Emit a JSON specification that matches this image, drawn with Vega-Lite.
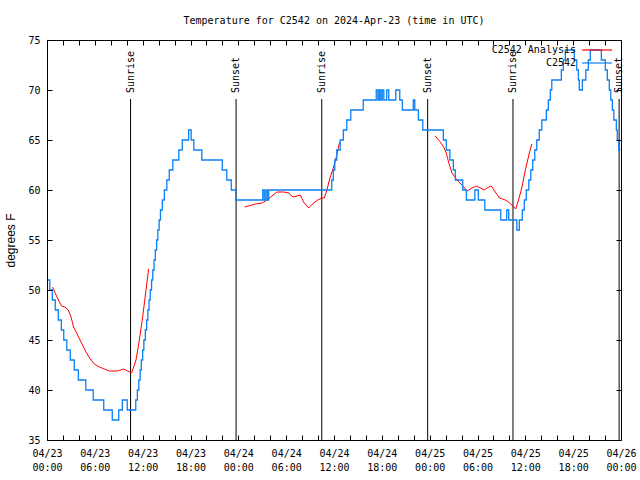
{
  "$schema": "https://vega.github.io/schema/vega-lite/v6.json",
  "width": 574,
  "height": 400,
  "autosize": {"type": "none"},
  "padding": {"left": 47, "top": 40, "right": 19, "bottom": 40},
  "title": {
    "text": "Temperature for C2542 on 2024-Apr-23 (time in UTC)",
    "font": "DejaVu Sans Mono",
    "fontSize": 10,
    "fontWeight": "normal",
    "color": "#000000",
    "anchor": "middle",
    "offset": 9
  },
  "config": {
    "view": {"stroke": "#000000", "strokeWidth": 1},
    "axis": {
      "domain": false,
      "grid": false,
      "labelFont": "DejaVu Sans Mono",
      "labelFontSize": 10,
      "labelColor": "#000000",
      "tickColor": "#000000",
      "tickOpacity": 1,
      "tickWidth": 1,
      "titleFont": "Liberation Sans",
      "titleFontSize": 12,
      "titleFontWeight": "normal",
      "titleColor": "#000000"
    }
  },
  "datasets": {
    "events": [
      {"t": "2024-04-23T10:29:00Z", "label": "Sunrise"},
      {"t": "2024-04-23T23:43:00Z", "label": "Sunset"},
      {"t": "2024-04-24T10:28:00Z", "label": "Sunrise"},
      {"t": "2024-04-24T23:45:00Z", "label": "Sunset"},
      {"t": "2024-04-25T10:27:00Z", "label": "Sunrise"},
      {"t": "2024-04-25T23:46:00Z", "label": "Sunset"}
    ],
    "analysis": [
      {"t": "2024-04-23T00:42:00Z", "v": 50.3, "s": "C2542 Analysis", "run": "a1"},
      {"t": "2024-04-23T01:08:00Z", "v": 49.5, "s": "C2542 Analysis", "run": "a1"},
      {"t": "2024-04-23T01:33:00Z", "v": 48.8, "s": "C2542 Analysis", "run": "a1"},
      {"t": "2024-04-23T01:50:00Z", "v": 48.4, "s": "C2542 Analysis", "run": "a1"},
      {"t": "2024-04-23T02:15:00Z", "v": 48.3, "s": "C2542 Analysis", "run": "a1"},
      {"t": "2024-04-23T02:40:00Z", "v": 48.0, "s": "C2542 Analysis", "run": "a1"},
      {"t": "2024-04-23T03:01:00Z", "v": 47.3, "s": "C2542 Analysis", "run": "a1"},
      {"t": "2024-04-23T03:20:00Z", "v": 46.3, "s": "C2542 Analysis", "run": "a1"},
      {"t": "2024-04-23T03:43:00Z", "v": 45.7, "s": "C2542 Analysis", "run": "a1"},
      {"t": "2024-04-23T04:16:00Z", "v": 44.8, "s": "C2542 Analysis", "run": "a1"},
      {"t": "2024-04-23T04:53:00Z", "v": 43.8, "s": "C2542 Analysis", "run": "a1"},
      {"t": "2024-04-23T05:31:00Z", "v": 43.0, "s": "C2542 Analysis", "run": "a1"},
      {"t": "2024-04-23T05:56:00Z", "v": 42.6, "s": "C2542 Analysis", "run": "a1"},
      {"t": "2024-04-23T06:34:00Z", "v": 42.3, "s": "C2542 Analysis", "run": "a1"},
      {"t": "2024-04-23T07:11:00Z", "v": 42.1, "s": "C2542 Analysis", "run": "a1"},
      {"t": "2024-04-23T07:49:00Z", "v": 41.9, "s": "C2542 Analysis", "run": "a1"},
      {"t": "2024-04-23T08:51:00Z", "v": 41.9, "s": "C2542 Analysis", "run": "a1"},
      {"t": "2024-04-23T09:36:00Z", "v": 42.1, "s": "C2542 Analysis", "run": "a1"},
      {"t": "2024-04-23T10:07:00Z", "v": 41.9, "s": "C2542 Analysis", "run": "a1"},
      {"t": "2024-04-23T10:37:00Z", "v": 41.7, "s": "C2542 Analysis", "run": "a1"},
      {"t": "2024-04-23T11:10:00Z", "v": 43.0, "s": "C2542 Analysis", "run": "a1"},
      {"t": "2024-04-23T11:35:00Z", "v": 45.0, "s": "C2542 Analysis", "run": "a1"},
      {"t": "2024-04-23T12:00:00Z", "v": 47.3, "s": "C2542 Analysis", "run": "a1"},
      {"t": "2024-04-23T12:25:00Z", "v": 50.0, "s": "C2542 Analysis", "run": "a1"},
      {"t": "2024-04-23T12:45:00Z", "v": 52.1, "s": "C2542 Analysis", "run": "a1"},
      {"t": "2024-04-24T00:47:00Z", "v": 58.3, "s": "C2542 Analysis", "run": "a2"},
      {"t": "2024-04-24T02:08:00Z", "v": 58.6, "s": "C2542 Analysis", "run": "a2"},
      {"t": "2024-04-24T02:58:00Z", "v": 58.7, "s": "C2542 Analysis", "run": "a2"},
      {"t": "2024-04-24T03:36:00Z", "v": 59.0, "s": "C2542 Analysis", "run": "a2"},
      {"t": "2024-04-24T04:13:00Z", "v": 59.4, "s": "C2542 Analysis", "run": "a2"},
      {"t": "2024-04-24T04:51:00Z", "v": 59.8, "s": "C2542 Analysis", "run": "a2"},
      {"t": "2024-04-24T05:41:00Z", "v": 59.8, "s": "C2542 Analysis", "run": "a2"},
      {"t": "2024-04-24T06:18:00Z", "v": 59.7, "s": "C2542 Analysis", "run": "a2"},
      {"t": "2024-04-24T06:51:00Z", "v": 59.3, "s": "C2542 Analysis", "run": "a2"},
      {"t": "2024-04-24T07:22:00Z", "v": 59.4, "s": "C2542 Analysis", "run": "a2"},
      {"t": "2024-04-24T07:46:00Z", "v": 59.5, "s": "C2542 Analysis", "run": "a2"},
      {"t": "2024-04-24T08:11:00Z", "v": 58.8, "s": "C2542 Analysis", "run": "a2"},
      {"t": "2024-04-24T08:49:00Z", "v": 58.2, "s": "C2542 Analysis", "run": "a2"},
      {"t": "2024-04-24T09:26:00Z", "v": 58.7, "s": "C2542 Analysis", "run": "a2"},
      {"t": "2024-04-24T09:57:00Z", "v": 59.0, "s": "C2542 Analysis", "run": "a2"},
      {"t": "2024-04-24T10:30:00Z", "v": 59.2, "s": "C2542 Analysis", "run": "a2"},
      {"t": "2024-04-24T10:47:00Z", "v": 59.2, "s": "C2542 Analysis", "run": "a2"},
      {"t": "2024-04-24T11:07:00Z", "v": 60.0, "s": "C2542 Analysis", "run": "a2"},
      {"t": "2024-04-24T11:25:00Z", "v": 61.0, "s": "C2542 Analysis", "run": "a2"},
      {"t": "2024-04-24T11:57:00Z", "v": 62.3, "s": "C2542 Analysis", "run": "a2"},
      {"t": "2024-04-24T12:21:00Z", "v": 63.5, "s": "C2542 Analysis", "run": "a2"},
      {"t": "2024-04-24T12:42:00Z", "v": 64.8, "s": "C2542 Analysis", "run": "a2"},
      {"t": "2024-04-25T00:42:00Z", "v": 65.4, "s": "C2542 Analysis", "run": "a3"},
      {"t": "2024-04-25T01:20:00Z", "v": 64.8, "s": "C2542 Analysis", "run": "a3"},
      {"t": "2024-04-25T01:45:00Z", "v": 64.3, "s": "C2542 Analysis", "run": "a3"},
      {"t": "2024-04-25T02:05:00Z", "v": 63.7, "s": "C2542 Analysis", "run": "a3"},
      {"t": "2024-04-25T02:22:00Z", "v": 62.8, "s": "C2542 Analysis", "run": "a3"},
      {"t": "2024-04-25T02:48:00Z", "v": 61.7, "s": "C2542 Analysis", "run": "a3"},
      {"t": "2024-04-25T03:26:00Z", "v": 61.0, "s": "C2542 Analysis", "run": "a3"},
      {"t": "2024-04-25T04:03:00Z", "v": 60.5, "s": "C2542 Analysis", "run": "a3"},
      {"t": "2024-04-25T04:41:00Z", "v": 59.9, "s": "C2542 Analysis", "run": "a3"},
      {"t": "2024-04-25T05:19:00Z", "v": 60.2, "s": "C2542 Analysis", "run": "a3"},
      {"t": "2024-04-25T05:51:00Z", "v": 60.4, "s": "C2542 Analysis", "run": "a3"},
      {"t": "2024-04-25T06:21:00Z", "v": 60.2, "s": "C2542 Analysis", "run": "a3"},
      {"t": "2024-04-25T06:51:00Z", "v": 60.0, "s": "C2542 Analysis", "run": "a3"},
      {"t": "2024-04-25T07:11:00Z", "v": 60.2, "s": "C2542 Analysis", "run": "a3"},
      {"t": "2024-04-25T07:44:00Z", "v": 60.4, "s": "C2542 Analysis", "run": "a3"},
      {"t": "2024-04-25T08:14:00Z", "v": 59.8, "s": "C2542 Analysis", "run": "a3"},
      {"t": "2024-04-25T08:46:00Z", "v": 59.2, "s": "C2542 Analysis", "run": "a3"},
      {"t": "2024-04-25T09:29:00Z", "v": 59.0, "s": "C2542 Analysis", "run": "a3"},
      {"t": "2024-04-25T09:54:00Z", "v": 58.8, "s": "C2542 Analysis", "run": "a3"},
      {"t": "2024-04-25T10:27:00Z", "v": 58.4, "s": "C2542 Analysis", "run": "a3"},
      {"t": "2024-04-25T10:47:00Z", "v": 58.1, "s": "C2542 Analysis", "run": "a3"},
      {"t": "2024-04-25T11:09:00Z", "v": 59.0, "s": "C2542 Analysis", "run": "a3"},
      {"t": "2024-04-25T11:35:00Z", "v": 60.3, "s": "C2542 Analysis", "run": "a3"},
      {"t": "2024-04-25T12:00:00Z", "v": 62.0, "s": "C2542 Analysis", "run": "a3"},
      {"t": "2024-04-25T12:32:00Z", "v": 63.8, "s": "C2542 Analysis", "run": "a3"},
      {"t": "2024-04-25T12:49:00Z", "v": 64.6, "s": "C2542 Analysis", "run": "a3"}
    ],
    "obs": [
      {"t": "2024-04-23T00:05:00Z", "v": 51, "s": "C2542"},
      {"t": "2024-04-23T00:21:00Z", "v": 50, "s": "C2542"},
      {"t": "2024-04-23T00:40:00Z", "v": 49, "s": "C2542"},
      {"t": "2024-04-23T01:02:00Z", "v": 48, "s": "C2542"},
      {"t": "2024-04-23T01:25:00Z", "v": 47, "s": "C2542"},
      {"t": "2024-04-23T01:48:00Z", "v": 46, "s": "C2542"},
      {"t": "2024-04-23T02:06:00Z", "v": 45, "s": "C2542"},
      {"t": "2024-04-23T02:29:00Z", "v": 44, "s": "C2542"},
      {"t": "2024-04-23T02:55:00Z", "v": 43, "s": "C2542"},
      {"t": "2024-04-23T03:25:00Z", "v": 42, "s": "C2542"},
      {"t": "2024-04-23T03:56:00Z", "v": 41, "s": "C2542"},
      {"t": "2024-04-23T04:52:00Z", "v": 40, "s": "C2542"},
      {"t": "2024-04-23T05:48:00Z", "v": 39, "s": "C2542"},
      {"t": "2024-04-23T07:07:00Z", "v": 38, "s": "C2542"},
      {"t": "2024-04-23T08:11:00Z", "v": 37, "s": "C2542"},
      {"t": "2024-04-23T09:00:00Z", "v": 38, "s": "C2542"},
      {"t": "2024-04-23T09:27:00Z", "v": 39, "s": "C2542"},
      {"t": "2024-04-23T10:04:00Z", "v": 38, "s": "C2542"},
      {"t": "2024-04-23T11:08:00Z", "v": 39, "s": "C2542"},
      {"t": "2024-04-23T11:20:00Z", "v": 40, "s": "C2542"},
      {"t": "2024-04-23T11:31:00Z", "v": 41, "s": "C2542"},
      {"t": "2024-04-23T11:41:00Z", "v": 42, "s": "C2542"},
      {"t": "2024-04-23T11:50:00Z", "v": 43, "s": "C2542"},
      {"t": "2024-04-23T12:00:00Z", "v": 44, "s": "C2542"},
      {"t": "2024-04-23T12:09:00Z", "v": 45, "s": "C2542"},
      {"t": "2024-04-23T12:20:00Z", "v": 46, "s": "C2542"},
      {"t": "2024-04-23T12:30:00Z", "v": 47, "s": "C2542"},
      {"t": "2024-04-23T12:39:00Z", "v": 48, "s": "C2542"},
      {"t": "2024-04-23T12:48:00Z", "v": 49, "s": "C2542"},
      {"t": "2024-04-23T12:57:00Z", "v": 50, "s": "C2542"},
      {"t": "2024-04-23T13:07:00Z", "v": 51, "s": "C2542"},
      {"t": "2024-04-23T13:16:00Z", "v": 52, "s": "C2542"},
      {"t": "2024-04-23T13:26:00Z", "v": 53, "s": "C2542"},
      {"t": "2024-04-23T13:35:00Z", "v": 54, "s": "C2542"},
      {"t": "2024-04-23T13:45:00Z", "v": 55, "s": "C2542"},
      {"t": "2024-04-23T13:54:00Z", "v": 56, "s": "C2542"},
      {"t": "2024-04-23T14:04:00Z", "v": 57, "s": "C2542"},
      {"t": "2024-04-23T14:14:00Z", "v": 58, "s": "C2542"},
      {"t": "2024-04-23T14:28:00Z", "v": 59, "s": "C2542"},
      {"t": "2024-04-23T14:43:00Z", "v": 60, "s": "C2542"},
      {"t": "2024-04-23T15:02:00Z", "v": 61, "s": "C2542"},
      {"t": "2024-04-23T15:20:00Z", "v": 62, "s": "C2542"},
      {"t": "2024-04-23T15:47:00Z", "v": 63, "s": "C2542"},
      {"t": "2024-04-23T16:32:00Z", "v": 64, "s": "C2542"},
      {"t": "2024-04-23T16:58:00Z", "v": 65, "s": "C2542"},
      {"t": "2024-04-23T17:46:00Z", "v": 66, "s": "C2542"},
      {"t": "2024-04-23T18:05:00Z", "v": 65, "s": "C2542"},
      {"t": "2024-04-23T18:25:00Z", "v": 64, "s": "C2542"},
      {"t": "2024-04-23T19:25:00Z", "v": 63, "s": "C2542"},
      {"t": "2024-04-23T21:59:00Z", "v": 62, "s": "C2542"},
      {"t": "2024-04-23T22:33:00Z", "v": 61, "s": "C2542"},
      {"t": "2024-04-23T23:07:00Z", "v": 60, "s": "C2542"},
      {"t": "2024-04-23T23:41:00Z", "v": 59, "s": "C2542"},
      {"t": "2024-04-24T03:04:00Z", "v": 60, "s": "C2542"},
      {"t": "2024-04-24T03:15:00Z", "v": 59, "s": "C2542"},
      {"t": "2024-04-24T03:27:00Z", "v": 60, "s": "C2542"},
      {"t": "2024-04-24T03:38:00Z", "v": 59, "s": "C2542"},
      {"t": "2024-04-24T03:49:00Z", "v": 60, "s": "C2542"},
      {"t": "2024-04-24T11:43:00Z", "v": 61, "s": "C2542"},
      {"t": "2024-04-24T11:55:00Z", "v": 62, "s": "C2542"},
      {"t": "2024-04-24T12:06:00Z", "v": 63, "s": "C2542"},
      {"t": "2024-04-24T12:21:00Z", "v": 64, "s": "C2542"},
      {"t": "2024-04-24T12:47:00Z", "v": 65, "s": "C2542"},
      {"t": "2024-04-24T13:10:00Z", "v": 66, "s": "C2542"},
      {"t": "2024-04-24T13:36:00Z", "v": 67, "s": "C2542"},
      {"t": "2024-04-24T14:06:00Z", "v": 68, "s": "C2542"},
      {"t": "2024-04-24T15:40:00Z", "v": 69, "s": "C2542"},
      {"t": "2024-04-24T17:18:00Z", "v": 70, "s": "C2542"},
      {"t": "2024-04-24T17:30:00Z", "v": 69, "s": "C2542"},
      {"t": "2024-04-24T17:41:00Z", "v": 70, "s": "C2542"},
      {"t": "2024-04-24T17:52:00Z", "v": 69, "s": "C2542"},
      {"t": "2024-04-24T18:03:00Z", "v": 70, "s": "C2542"},
      {"t": "2024-04-24T18:15:00Z", "v": 69, "s": "C2542"},
      {"t": "2024-04-24T18:37:00Z", "v": 70, "s": "C2542"},
      {"t": "2024-04-24T18:52:00Z", "v": 69, "s": "C2542"},
      {"t": "2024-04-24T19:45:00Z", "v": 70, "s": "C2542"},
      {"t": "2024-04-24T20:15:00Z", "v": 69, "s": "C2542"},
      {"t": "2024-04-24T20:34:00Z", "v": 68, "s": "C2542"},
      {"t": "2024-04-24T21:57:00Z", "v": 69, "s": "C2542"},
      {"t": "2024-04-24T22:08:00Z", "v": 68, "s": "C2542"},
      {"t": "2024-04-24T22:35:00Z", "v": 67, "s": "C2542"},
      {"t": "2024-04-24T23:08:00Z", "v": 66, "s": "C2542"},
      {"t": "2024-04-25T01:43:00Z", "v": 65, "s": "C2542"},
      {"t": "2024-04-25T02:05:00Z", "v": 64, "s": "C2542"},
      {"t": "2024-04-25T02:32:00Z", "v": 63, "s": "C2542"},
      {"t": "2024-04-25T02:58:00Z", "v": 62, "s": "C2542"},
      {"t": "2024-04-25T03:13:00Z", "v": 61, "s": "C2542"},
      {"t": "2024-04-25T04:09:00Z", "v": 60, "s": "C2542"},
      {"t": "2024-04-25T04:36:00Z", "v": 59, "s": "C2542"},
      {"t": "2024-04-25T05:40:00Z", "v": 60, "s": "C2542"},
      {"t": "2024-04-25T06:06:00Z", "v": 59, "s": "C2542"},
      {"t": "2024-04-25T06:55:00Z", "v": 58, "s": "C2542"},
      {"t": "2024-04-25T08:55:00Z", "v": 57, "s": "C2542"},
      {"t": "2024-04-25T09:40:00Z", "v": 58, "s": "C2542"},
      {"t": "2024-04-25T09:55:00Z", "v": 57, "s": "C2542"},
      {"t": "2024-04-25T10:56:00Z", "v": 56, "s": "C2542"},
      {"t": "2024-04-25T11:15:00Z", "v": 57, "s": "C2542"},
      {"t": "2024-04-25T11:37:00Z", "v": 58, "s": "C2542"},
      {"t": "2024-04-25T11:52:00Z", "v": 59, "s": "C2542"},
      {"t": "2024-04-25T12:07:00Z", "v": 60, "s": "C2542"},
      {"t": "2024-04-25T12:26:00Z", "v": 61, "s": "C2542"},
      {"t": "2024-04-25T12:41:00Z", "v": 62, "s": "C2542"},
      {"t": "2024-04-25T12:56:00Z", "v": 63, "s": "C2542"},
      {"t": "2024-04-25T13:11:00Z", "v": 64, "s": "C2542"},
      {"t": "2024-04-25T13:26:00Z", "v": 65, "s": "C2542"},
      {"t": "2024-04-25T13:45:00Z", "v": 66, "s": "C2542"},
      {"t": "2024-04-25T14:04:00Z", "v": 67, "s": "C2542"},
      {"t": "2024-04-25T14:38:00Z", "v": 68, "s": "C2542"},
      {"t": "2024-04-25T14:53:00Z", "v": 69, "s": "C2542"},
      {"t": "2024-04-25T15:08:00Z", "v": 70, "s": "C2542"},
      {"t": "2024-04-25T15:19:00Z", "v": 71, "s": "C2542"},
      {"t": "2024-04-25T16:31:00Z", "v": 72, "s": "C2542"},
      {"t": "2024-04-25T16:46:00Z", "v": 73, "s": "C2542"},
      {"t": "2024-04-25T17:01:00Z", "v": 74, "s": "C2542"},
      {"t": "2024-04-25T18:08:00Z", "v": 73, "s": "C2542"},
      {"t": "2024-04-25T18:27:00Z", "v": 72, "s": "C2542"},
      {"t": "2024-04-25T18:39:00Z", "v": 71, "s": "C2542"},
      {"t": "2024-04-25T18:46:00Z", "v": 70, "s": "C2542"},
      {"t": "2024-04-25T19:09:00Z", "v": 71, "s": "C2542"},
      {"t": "2024-04-25T19:35:00Z", "v": 72, "s": "C2542"},
      {"t": "2024-04-25T19:54:00Z", "v": 73, "s": "C2542"},
      {"t": "2024-04-25T20:09:00Z", "v": 74, "s": "C2542"},
      {"t": "2024-04-25T21:32:00Z", "v": 73, "s": "C2542"},
      {"t": "2024-04-25T22:02:00Z", "v": 72, "s": "C2542"},
      {"t": "2024-04-25T22:17:00Z", "v": 71, "s": "C2542"},
      {"t": "2024-04-25T22:32:00Z", "v": 70, "s": "C2542"},
      {"t": "2024-04-25T22:43:00Z", "v": 69, "s": "C2542"},
      {"t": "2024-04-25T22:55:00Z", "v": 68, "s": "C2542"},
      {"t": "2024-04-25T23:06:00Z", "v": 67, "s": "C2542"},
      {"t": "2024-04-25T23:25:00Z", "v": 66, "s": "C2542"},
      {"t": "2024-04-25T23:32:00Z", "v": 65, "s": "C2542"},
      {"t": "2024-04-25T23:43:00Z", "v": 64, "s": "C2542"},
      {"t": "2024-04-25T23:55:00Z", "v": 64, "s": "C2542"}
    ]
  },
  "layer": [
    {
      "data": {"name": "events"},
      "mark": {"type": "rule", "color": "#000000", "strokeWidth": 1},
      "encoding": {
        "x": {"field": "t", "type": "temporal",
              "scale": {"type": "utc", "domain": [1713830400000, 1714089600000]}, "axis": null},
        "y": {"datum": 69.1, "type": "quantitative",
              "scale": {"domain": [35, 75], "nice": false, "zero": false}, "axis": null},
        "y2": {"datum": 35}
      }
    },
    {
      "data": {"name": "events"},
      "mark": {"type": "text", "angle": 270, "align": "left", "baseline": "middle", "font": "DejaVu Sans Mono", "fontSize": 10, "color": "#000000"},
      "encoding": {
        "x": {"field": "t", "type": "temporal",
              "scale": {"type": "utc", "domain": [1713830400000, 1714089600000]}, "axis": null},
        "y": {"datum": 69.7, "type": "quantitative",
              "scale": {"domain": [35, 75], "nice": false, "zero": false}, "axis": null},
        "text": {"field": "label"}
      }
    },
    {
      "data": {"name": "analysis"},
      "mark": {"type": "line", "strokeWidth": 1},
      "encoding": {
        "x": {"field": "t", "type": "temporal",
              "scale": {"type": "utc", "domain": [1713830400000, 1714089600000]},
              "axis": {"orient": "bottom", "zindex": 1, "title": null, "ticks": true, "tickSize": -5, "format": "%m/%d", "labelPadding": 13, "labelOverlap": false, "labelFlush": false,
                       "values": [1713830400000, 1713852000000, 1713873600000, 1713895200000, 1713916800000, 1713938400000, 1713960000000, 1713981600000, 1714003200000, 1714024800000, 1714046400000, 1714068000000, 1714089600000]}},
        "y": {"field": "v", "type": "quantitative",
              "scale": {"domain": [35, 75], "nice": false, "zero": false},
              "axis": {"orient": "left", "zindex": 1, "values": [35, 40, 45, 50, 55, 60, 65, 70, 75], "ticks": true, "tickSize": -5, "labelPadding": 12, "title": "degrees F", "titlePadding": 10}},
        "color": {"field": "s", "type": "nominal",
                  "scale": {"domain": ["C2542 Analysis", "C2542"], "range": ["#ff0000", "#0a80f5"]},
                  "legend": {"title": null, "orient": "none", "legendX": 544, "legendY": 4, "symbolType": "M-3,0H3", "symbolSize": 100, "symbolStrokeWidth": 1.2, "labelFont": "DejaVu Sans Mono", "labelFontSize": 10, "labelColor": "#000000", "labelAlign": "right", "labelOffset": -27, "rowPadding": 2}},
        "detail": {"field": "run"}
      }
    },
    {
      "data": {"name": "obs"},
      "mark": {"type": "line", "strokeWidth": 1.3, "interpolate": "step-after"},
      "encoding": {
        "x": {"field": "t", "type": "temporal",
              "scale": {"type": "utc", "domain": [1713830400000, 1714089600000]},
              "axis": {"orient": "bottom", "title": null, "ticks": false, "tickSize": 0, "format": "%H:%M", "labelPadding": 22, "labelOverlap": false, "labelFlush": false,
                       "values": [1713830400000, 1713852000000, 1713873600000, 1713895200000, 1713916800000, 1713938400000, 1713960000000, 1713981600000, 1714003200000, 1714024800000, 1714046400000, 1714068000000, 1714089600000]}},
        "y": {"field": "v", "type": "quantitative", "scale": {"domain": [35, 75], "nice": false, "zero": false},
              "axis": {"orient": "right", "zindex": 1, "title": null, "labels": false, "ticks": true, "tickSize": -5, "values": [35, 40, 45, 50, 55, 60, 65, 70, 75]}},
        "color": {"field": "s", "type": "nominal"}
      }
    },
    {
      "data": {"name": "obs"},
      "mark": {"type": "line", "strokeWidth": 1, "opacity": 0, "interpolate": "step-after"},
      "encoding": {
        "x": {"field": "t", "type": "temporal",
              "scale": {"type": "utc", "domain": [1713830400000, 1714089600000]},
              "axis": {"orient": "bottom", "zindex": 1, "title": null, "labels": false, "ticks": true, "tickSize": -5,
                       "values": [1713837600000, 1713844800000, 1713859200000, 1713866400000, 1713880800000, 1713888000000, 1713902400000, 1713909600000, 1713924000000, 1713931200000, 1713945600000, 1713952800000, 1713967200000, 1713974400000, 1713988800000, 1713996000000, 1714010400000, 1714017600000, 1714032000000, 1714039200000, 1714053600000, 1714060800000, 1714075200000, 1714082400000]}},
        "y": {"field": "v", "type": "quantitative", "scale": {"domain": [35, 75], "nice": false, "zero": false}, "axis": null}
      }
    },
    {
      "data": {"name": "obs"},
      "mark": {"type": "line", "strokeWidth": 1, "opacity": 0, "interpolate": "step-after"},
      "encoding": {
        "x": {"field": "t", "type": "temporal",
              "scale": {"type": "utc", "domain": [1713830400000, 1714089600000]},
              "axis": {"orient": "top", "zindex": 1, "title": null, "labels": false, "ticks": true, "tickSize": -5,
                       "values": [1713830400000, 1713837600000, 1713844800000, 1713852000000, 1713859200000, 1713866400000, 1713873600000, 1713880800000, 1713888000000, 1713895200000, 1713902400000, 1713909600000, 1713916800000, 1713924000000, 1713931200000, 1713938400000, 1713945600000, 1713952800000, 1713960000000, 1713967200000, 1713974400000, 1713981600000, 1713988800000, 1713996000000, 1714003200000, 1714010400000, 1714017600000, 1714024800000, 1714032000000, 1714039200000, 1714046400000, 1714053600000, 1714060800000, 1714068000000, 1714075200000, 1714082400000, 1714089600000]}},
        "y": {"field": "v", "type": "quantitative", "scale": {"domain": [35, 75], "nice": false, "zero": false}, "axis": null}
      }
    }
  ],
  "resolve": {"axis": {"x": "independent", "y": "independent"}}
}
